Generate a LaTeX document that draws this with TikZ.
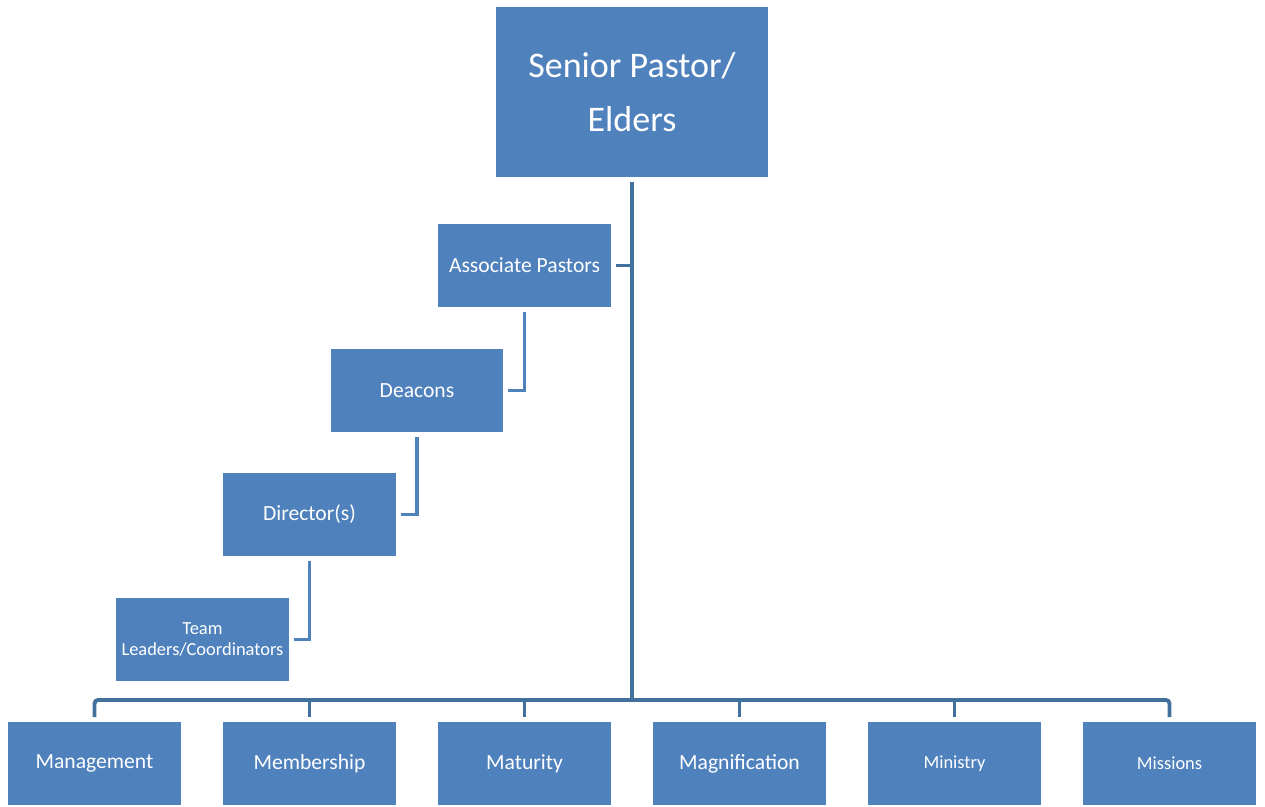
\documentclass[tikz,border=0pt]{standalone}
\usepackage{fontspec}
\setmainfont{Carlito}
\definecolor{boxblue}{HTML}{4F81BD}
\definecolor{lineblue}{HTML}{41719C}

\begin{document}
\begin{tikzpicture}[x=0.02cm, y=-0.02cm,
  unit/.style={rectangle, fill=boxblue, text=white, align=center,
    minimum width=3.46cm, minimum height=1.66cm, inner sep=0pt, outer sep=0.1cm,
    font=\fontsize{12.3}{14.5}\selectfont},
  smallunit/.style={unit, font=\fontsize{10.5}{11.5}\selectfont},
  link/.style={draw=lineblue, line width=2.2pt},
  steplink/.style={draw=boxblue, line width=2pt}]
  \useasboundingbox (0,0) rectangle (1265,806);

  % Top of the chart
  \node[unit, minimum width=5.44cm, minimum height=3.4cm,
    font=\fontsize{20.5}{31}\selectfont] (senior) at (632,92) {Senior Pastor/\\Elders};

  % Staircase of leaders
  \node[unit] (assoc) at (524.5,265.5) {Associate Pastors};
  \node[unit] (deacons) at (417,390.5) {Deacons};
  \node[unit] (directors) at (309.5,514.5) {Director(s)};
  \node[smallunit] (team) at (202.5,639.5) {Team\\Leaders/Coordinators};

  % Bottom row
  \node[unit] (management) at (94.5,763.5) {Management};
  \node[unit] (membership) at (309.5,763.5) {Membership};
  \node[unit] (maturity) at (524.5,763.5) {Maturity};
  \node[unit] (magnification) at (739.5,763.5) {Magnification};
  \node[smallunit] (ministry) at (954.5,763.5) {Ministry};
  \node[smallunit] (missions) at (1169.5,763.5) {Missions};

  \coordinate (bus) at (632,700);

  % Main line and bus
  \draw[link] (senior.south) -- (bus);
  \draw[link] (assoc.east) -- (assoc.east -| senior.south);
  \draw[link, rounded corners=2pt] (management.north) |- (bus) -| (missions.north);
  \foreach \n in {membership, maturity, magnification, ministry}
    \draw[link] (\n.north) -- (\n.north |- bus);

  % Staircase links
  \draw[steplink] (assoc.south) |- (deacons.east);
  \draw[steplink] (deacons.south) |- (directors.east);
  \draw[steplink] (directors.south) |- (team.east);
\end{tikzpicture}
\end{document}
